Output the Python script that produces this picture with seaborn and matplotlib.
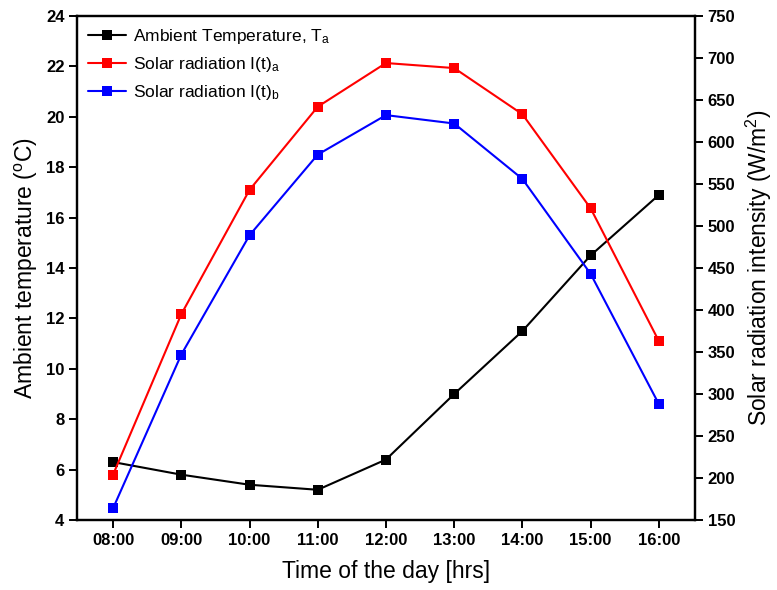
import matplotlib
matplotlib.use("Agg")
import matplotlib.pyplot as plt
import seaborn as sns
import pandas as pd

# Hourly readings
hours = ["08:00", "09:00", "10:00", "11:00", "12:00", "13:00", "14:00", "15:00", "16:00"]
ambient_temp = [6.3, 5.8, 5.4, 5.2, 6.4, 9.0, 11.5, 14.5, 16.9]
radiation_a = [204, 395, 543, 642, 694, 688, 633, 521, 363]
radiation_b = [164, 347, 489, 585, 632, 622, 556, 443, 288]

sns.set_style("ticks", {"axes.edgecolor": "black", "xtick.color": "black",
                        "ytick.color": "black", "text.color": "black",
                        "axes.labelcolor": "black"})
plt.rcParams["font.family"] = ["Liberation Sans", "DejaVu Sans"]
plt.rcParams["mathtext.fontset"] = "custom"
plt.rcParams["mathtext.rm"] = "Liberation Sans"
plt.rcParams["mathtext.it"] = "Liberation Sans:italic"
plt.rcParams["xtick.direction"] = "out"
plt.rcParams["ytick.direction"] = "out"

pos = list(range(len(hours)))
df = pd.DataFrame({"pos": pos, "T": ambient_temp, "Ia": radiation_a, "Ib": radiation_b})

fig = plt.figure(figsize=(7.77, 5.90), dpi=100)
ax = fig.add_axes([0.099, 0.1186, 0.7955, 0.8543])
ax2 = ax.twinx()

mk = dict(marker="s", markersize=7.5, markeredgewidth=0, linewidth=1.5)
sns.lineplot(data=df, x="pos", y="T", ax=ax, color="black",
             label="Ambient Temperature, T$_\\mathrm{a}$", legend=False, **mk)
sns.lineplot(data=df, x="pos", y="Ia", ax=ax2, color="#ff0000",
             label="Solar radiation I(t)$_\\mathrm{a}$", legend=False, **mk)
sns.lineplot(data=df, x="pos", y="Ib", ax=ax2, color="#0000ff",
             label="Solar radiation I(t)$_\\mathrm{b}$", legend=False, **mk)

ax.set_xlim(-0.53, 8.53)
ax.set_ylim(4, 24)
ax.set_yticks(range(4, 25, 2))
ax2.set_ylim(150, 750)
ax2.set_yticks(range(150, 751, 50))
ax.set_xticks(pos)
ax.set_xticklabels(hours)

for a in (ax, ax2):
    for s in a.spines.values():
        s.set_linewidth(1.6)
        s.set_color("black")
        s.set_visible(True)
    a.tick_params(width=1.4, length=6, pad=3, labelsize=12, colors="black")
    for lbl in a.get_xticklabels() + a.get_yticklabels():
        lbl.set_fontweight("bold")

ax.set_xlabel("Time of the day [hrs]", fontsize=16.5, labelpad=9)
ax.set_ylabel("Ambient temperature ($^{\\mathrm{o}}$C)", fontsize=16.5, labelpad=4)
ax2.set_ylabel("Solar radiation intensity (W/m$^{2}$)", fontsize=16.5, labelpad=6)

h1, l1 = ax.get_legend_handles_labels()
h2, l2 = ax2.get_legend_handles_labels()
ax.legend(h1 + h2, l1 + l2, loc="upper left", frameon=False, fontsize=12.5,
          handlelength=2.2, handletextpad=0.4, borderaxespad=0.2,
          borderpad=0.45, labelspacing=0.5)

fig.savefig("out.png", dpi=100)
